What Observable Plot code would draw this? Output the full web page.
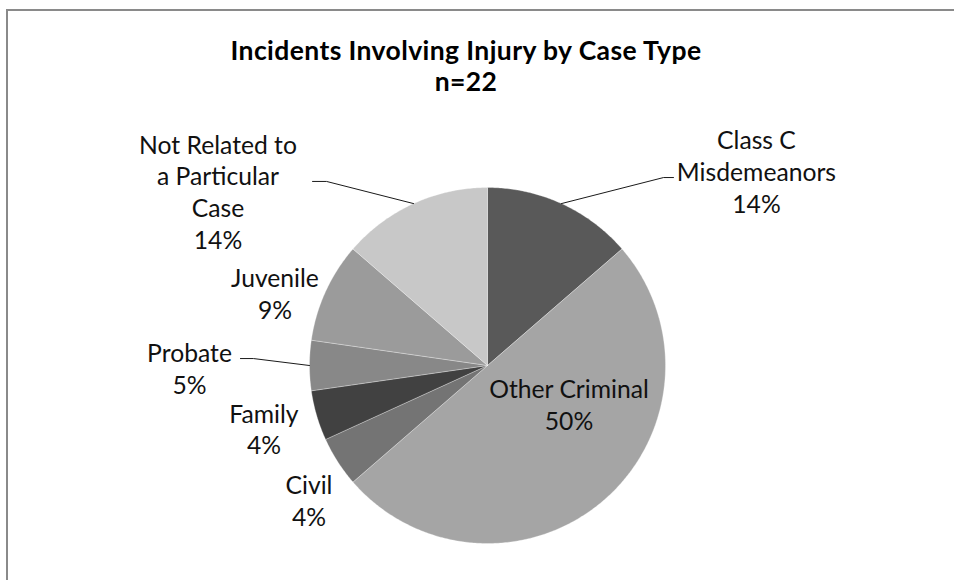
<!DOCTYPE html>
<html>
<head>
<meta charset="utf-8">
<script src="https://cdn.jsdelivr.net/npm/d3@7"></script>
<script src="https://cdn.jsdelivr.net/npm/@observablehq/plot@0.6"></script>
<style>
  html, body { margin: 0; padding: 0; background: #fff; }
  body { width: 954px; height: 580px; position: relative; overflow: hidden; font-family: Lato, "Open Sans", sans-serif; }
  #frame { position: absolute; left: 6px; top: 9px; width: 1000px; height: 700px; border-left: 2px solid #8a8a8a; border-top: 2px solid #8a8a8a; pointer-events: none; }
  #title { position: relative; height: 100px; box-sizing: border-box; padding-top: 35px; padding-right: 22px; text-align: center; font-weight: bold; font-size: 26.5px; letter-spacing: 0.4px; line-height: 31px; color: #000; }
  #chart svg { display: block; }
</style>
</head>
<body>
<div id="frame"></div>
<div id="title">Incidents Involving Injury by Case Type<br>n=22</div>
<div id="chart"></div>
<script>
// ---- data (counts, n = 22) ----
const categories = ["Class C Misdemeanors", "Other Criminal", "Civil", "Family", "Probate", "Juvenile", "Not Related to a Particular Case"];
const counts = [3, 11, 1, 1, 1, 2, 3];
const labelTexts = ["Class C\nMisdemeanors\n14%", "Other Criminal\n50%", "Civil\n4%", "Family\n4%", "Probate\n5%", "Juvenile\n9%", "Not Related to\na Particular\nCase\n14%"];
const grays = ["#595959", "#a5a5a5", "#747474", "#414141", "#888888", "#9b9b9b", "#c8c8c8"];

// ---- layout (label centres in pie-radius units, leader elbows) ----
const labelPos = [[1.511, 1.093], [0.458, -0.216], [-1.003, -0.753], [-1.256, -0.354], [-1.674, -0.014], [-1.194, 0.41], [-1.514, 0.98]];
const leaders = { // elbow + end near label, in pie-radius units
  "Class C Misdemeanors": [[0.989, 1.056], [1.045, 1.056]],
  "Probate": [[-1.315, 0.039], [-1.388, 0.039]],
  "Not Related to a Particular Case": [[-0.904, 1.034], [-0.983, 1.034]]
};

const pie = d3.pie().sort(null).value(d => d)(counts);

// wedge outlines
const wedgePts = [];
pie.forEach((p, i) => {
  const cat = categories[i];
  wedgePts.push({cat, x: 0, y: 0});
  const n = Math.max(2, Math.ceil((p.endAngle - p.startAngle) / 0.01));
  for (let k = 0; k <= n; k++) {
    const a = p.startAngle + (p.endAngle - p.startAngle) * k / n;
    wedgePts.push({cat, x: Math.sin(a), y: Math.cos(a)});
  }
  wedgePts.push({cat, x: 0, y: 0});
});

// leader lines: from slice mid-angle on the rim to the label
const leaderPts = [];
pie.forEach((p, i) => {
  const cat = categories[i];
  if (!leaders[cat]) return;
  const m = (p.startAngle + p.endAngle) / 2;
  leaderPts.push({cat, x: Math.sin(m), y: Math.cos(m)});
  leaders[cat].forEach(([x, y]) => leaderPts.push({cat, x, y}));
});

const labels = categories.map((c, i) => ({cat: c, text: labelTexts[i], x: labelPos[i][0], y: labelPos[i][1]}));

const cx = 487, cy = 265, R = 178;
const chart = Plot.plot({
  width: 954,
  height: 480,
  margin: 0,
  x: {domain: [-1, 1], range: [cx - R, cx + R], axis: null},
  y: {domain: [-1, 1], range: [cy + R, cy - R], axis: null},
  color: {type: "ordinal", domain: categories, range: grays},
  style: {fontFamily: "Lato, 'Open Sans', sans-serif", background: "transparent"},
  marks: [
    Plot.line(wedgePts, {x: "x", y: "y", z: "cat", fill: "cat", stroke: "#ffffff", strokeWidth: 0.6, strokeOpacity: 0.5, curve: "linear"}),
    Plot.line(leaderPts, {x: "x", y: "y", z: "cat", stroke: "#1a1a1a", strokeWidth: 1}),
    Plot.text(labels, {x: "x", y: "y", text: "text", fontSize: 24.7, lineHeight: 1.283, lineAnchor: "middle", textAnchor: "middle", fill: "#111"})
  ]
});
document.getElementById("chart").appendChild(chart);
</script>
</body>
</html>
